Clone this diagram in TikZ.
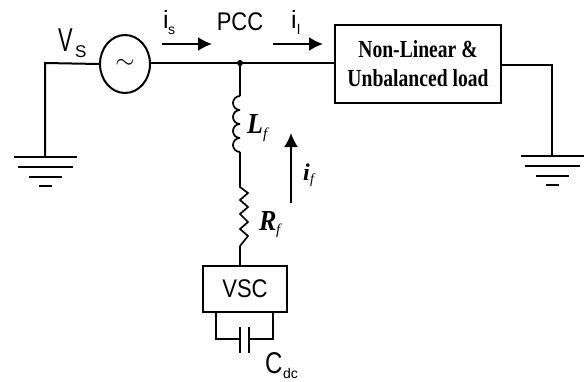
\documentclass[tikz,border=0pt]{standalone}
\usepackage{fontspec}
\setmainfont{Liberation Sans}
\newfontfamily\loadfont{Liberation Serif}
\usetikzlibrary{shapes.geometric,arrows.meta}
\tikzset{
  wire/.style={line width=2pt},
  thinwire/.style={line width=1.7pt},
  flow/.style={line width=1.8pt,-{Latex[length=14pt,width=14pt]}},
  sanstext/.style={inner sep=0pt,font=\fontsize{22}{24}\selectfont},
  symtext/.style={inner sep=0pt,font=\loadfont\bfseries\itshape\fontsize{29}{30}\selectfont}
}
\newcommand{\tall}[1]{\scalebox{1}[1.16]{#1}}
\newcommand{\groundbars}[2]{%
  \draw [wire] (#1-31,#2)--(#1+32,#2);
  \draw [wire] (#1-27,#2+10)--(#1+28,#2+10);
  \draw [wire] (#1-16,#2+20)--(#1+17,#2+20);
  \draw [wire] (#1-6,#2+29)--(#1+7,#2+29);
}
\begin{document}
\begin{tikzpicture}[x=1pt,y=-1pt]
    \useasboundingbox (0,0) rectangle (588,381);
    % source and left ground
    \node [draw, wire, ellipse, minimum width=50pt, minimum height=58pt, inner sep=0pt, font=\fontsize{30}{30}\selectfont] (source) at (125,64) {$\sim$};
    \coordinate (leftcorner) at (45,63);
    \coordinate (leftground) at (45,157);
    \draw [wire] (source.west)--(leftcorner)--(leftground);
    \groundbars{45}{157}
    % load and right ground
    \node [draw, wire, minimum width=166pt, minimum height=78pt, inner sep=0pt, align=center, font=\loadfont\bfseries\fontsize{19.6}{29}\selectfont] (load) at (418,64) {\scalebox{1}[1.25]{Non-Linear \&}\\\scalebox{1}[1.25]{Unbalanced load}};
    \coordinate (rightcorner) at (552,65);
    \coordinate (rightground) at (552,156);
    \draw [wire] (load.east |- rightcorner)--(rightcorner)--(rightground);
    \groundbars{552}{156}
    % main line and branch
    \coordinate (pcc) at (240,63);
    \draw [line width=2.4pt] (source.east |- pcc)--(pcc)--(load.west |- pcc);
    \fill (pcc) circle (3pt);
    \coordinate (coiltop) at (240,96);
    \coordinate (restop) at (240,187);
    \coordinate (resend) at (240,246);
    \draw [thinwire] (pcc)--(coiltop);
    \foreach \y in {96,110,124,138}
      \draw [thinwire] (240,\y) arc (90:-90:-7 and -7);
    \draw [thinwire] (240,152)--(restop)--(248,193)--(240,200)--(248,207)--(240,214)--(248,222)--(240,229)--(248,236)--(resend);
    % converter and capacitor
    \node [draw, wire, minimum width=84pt, minimum height=46pt, inner sep=0pt, font=\fontsize{22}{24}\selectfont] (vsc) at (245,289) {\tall{VSC}};
    \draw [thinwire] (resend)--(vsc.north -| resend);
    \coordinate (capleft) at (240,339);
    \coordinate (capright) at (249,339);
    \draw [wire] (216,312)--(216,339)--(capleft);
    \draw [wire] (273,312)--(273,339)--(capright);
    \draw [wire] (240,327)--(240,353);
    \draw [wire] (249,327)--(249,353);
    % current arrows
    \coordinate (isa) at (162,44);
    \coordinate (isb) at (212,44);
    \coordinate (ila) at (273,44);
    \coordinate (ilb) at (323,44);
    \coordinate (ifa) at (291,203);
    \coordinate (ifb) at (291,133);
    \draw [flow] (isa)--(isb);
    \draw [flow] (ila)--(ilb);
    \draw [flow] (ifa)--(ifb);
    % labels
    \node [sanstext, font=\fontsize{33}{34}\selectfont, anchor=base west] (vslabel) at (58,51) {\scalebox{0.66}[1]{V}};
    \node [sanstext, font=\fontsize{17}{18}\selectfont, anchor=base west] (vssub) at (75,57) {S};
    \node [sanstext, font=\fontsize{25}{26}\selectfont, anchor=base west] (islabel) at (163,28) {i};
    \node [sanstext, font=\fontsize{14}{16}\selectfont, anchor=base west] (issub) at (168,34) {s};
    \node [sanstext, anchor=base] (pcclabel) at (240,30) {\tall{PCC}};
    \node [sanstext, font=\fontsize{25}{26}\selectfont, anchor=base west] (illabel) at (291,28) {i};
    \node [sanstext, font=\fontsize{14}{16}\selectfont, anchor=base west] (ilsub) at (297,34) {l};
    \node [symtext, anchor=base west] (lflabel) at (247,133) {\scalebox{0.9}[1]{L}};
    \node [symtext, font=\loadfont\itshape\fontsize{15}{16}\selectfont, anchor=base west] (lfsub) at (263,138) {f};
    \node [symtext, anchor=base west] (rflabel) at (259,230) {\scalebox{0.9}[1]{R}};
    \node [symtext, font=\loadfont\itshape\fontsize{15}{16}\selectfont, anchor=base west] (rfsub) at (276,234) {f};
    \node [symtext, font=\loadfont\bfseries\itshape\fontsize{24}{24}\selectfont, anchor=base west] (iflabel) at (303,180) {i};
    \node [symtext, font=\loadfont\itshape\fontsize{14}{14}\selectfont, anchor=base west] (ifsub) at (310,183) {f};
    \node [sanstext, font=\fontsize{30}{30}\selectfont, anchor=base west] (cdclabel) at (265,373) {\scalebox{0.8}[1]{C}};
    \node [sanstext, font=\fontsize{14}{16}\selectfont, anchor=base west] (cdcsub) at (283,378.5) {dc};
\end{tikzpicture}
\end{document}
